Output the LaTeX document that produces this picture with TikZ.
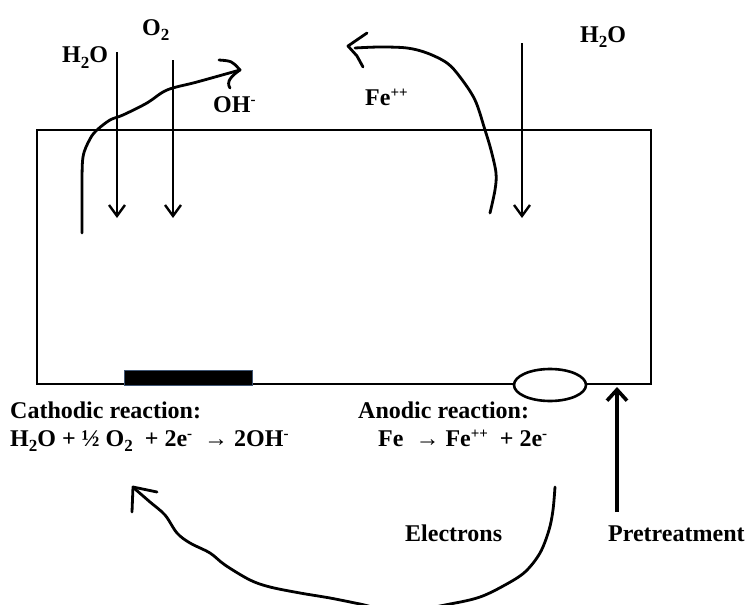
\documentclass[tikz,border=0pt]{standalone}
\usepackage{fontspec}
\setmainfont{Liberation Serif}
\usetikzlibrary{arrows.meta, calc}
\definecolor{barblue}{HTML}{3F5573}
\newcommand{\ionsup}[1]{\raisebox{0.32em}{\fontsize{15}{15}\selectfont #1}}
\newcommand{\molsub}[1]{\raisebox{-0.22em}{\fontsize{17}{17}\selectfont #1}}
\tikzset{
  flow/.style={-{Straight Barb[length=11pt, width=16pt]}, line width=2.4pt},
  push/.style={-{Straight Barb[length=11pt, width=20pt]}, line width=3.6pt},
  hand/.style={line width=2.8pt, line cap=round, line join=round},
  lbl/.style={anchor=base west, inner sep=0pt},
  every node/.append style={font=\bfseries\fontsize{24}{28}\selectfont}
}

\begin{document}
\begin{tikzpicture}[x=1pt, y=-1pt]
\useasboundingbox (0,0) rectangle (748,605);
\clip (0,0) rectangle (748,605);

% cell and the two sites
\draw[line width=2.6pt] (37,130) rectangle (651,384);
\filldraw[fill=black, draw=barblue, line width=0.6pt] (124,370) rectangle (252,385);
\filldraw[fill=white, line width=2.6pt] (550,385) ellipse [x radius=36pt, y radius=16pt];

% labels
\node[lbl] (h2oL) at (62,63) {H\molsub{2}O};
\node[lbl] (o2) at (142,35) {O\molsub{2}};
\node[lbl] (ohm) at (213,112) {OH\ionsup{-}};
\node[lbl] (fepp) at (365,105) {Fe\ionsup{++}};
\node[lbl] (h2oR) at (580,42) {H\molsub{2}O};
\node[lbl] (cath) at (10,418) {Cathodic reaction:};
\node[lbl] (cathEq) at (10,446) {H\molsub{2}O + ½ O\molsub{2} \ + 2e\ionsup{-} \ → 2OH\ionsup{-}};
\node[lbl] (anod) at (358,418) {Anodic reaction:};
\node[lbl] (anodEq) at (378,446) {Fe \ → Fe\ionsup{++} \ + 2e\ionsup{-}};
\node[lbl] (elec) at (405,541) {Electrons};
\node[lbl] (pretr) at (608,541) {Pretreatment};

% feeds into the cell
\coordinate (h2oLtop) at (117,52);  \coordinate (h2oLend) at (117,218);
\coordinate (o2top) at (173,60);    \coordinate (o2end) at (173,218);
\coordinate (h2oRtop) at (522,43);  \coordinate (h2oRend) at (522,218);
\coordinate (pretrtop) at (617,512); \coordinate (pretrend) at (617,387);
\draw[flow] (h2oLtop) -- (h2oLend);
\draw[flow] (o2top) -- (o2end);
\draw[flow] (h2oRtop) -- (h2oRend);
\draw[push] (pretrtop) -- (pretrend);

% OH- out of the cell
\draw[hand] plot[smooth, tension=0.55] coordinates {(82,233) (82,190) (83,157) (90,139) (97,130) (110,120) (123,115) (147,103) (167,90) (197,82) (240,70)};
\draw[hand] (219,60) .. controls (232,61) .. (240,70) .. controls (231,76) and (226,82) .. (230,88);

% Fe++ out of the cell
\draw[hand] plot[smooth, tension=0.55] coordinates {(490,213) (495,190) (496,173) (491,150) (485,130) (475,100) (460,77) (447,63) (427,53) (407,48) (380,47) (355,48)};
\draw[hand] (367,33) -- (348,46) -- (357,56) -- (363,67);

% electrons under the cell
\draw[hand] plot[smooth, tension=0.55] coordinates {(555,487) (553,510) (549,530) (540,553) (525,572) (505,585) (480,597) (450,604) (400,612) (360,604) (330,598) (300,593) (270,587) (250,580) (225,565) (210,553) (190,543) (177,533) (165,515) (150,502) (135,489)};
\draw[hand] (132,512) -- (133,487) -- (157,492);
\end{tikzpicture}
\end{document}
